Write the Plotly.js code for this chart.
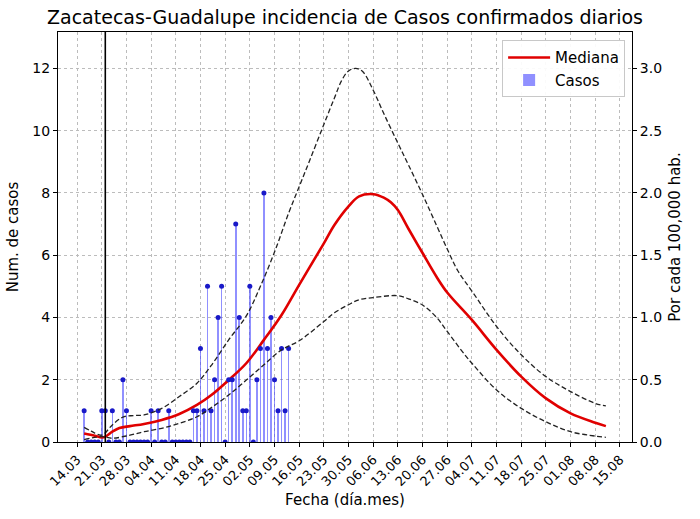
<!DOCTYPE html>
<html>
<head>
<meta charset="utf-8">
<script src="https://cdn.plot.ly/plotly-3.0.1.min.js"></script>
<style>html,body{margin:0;padding:0;background:#fff;}#chart{width:700px;height:519px;}</style>
</head>
<body>
<div id="chart"></div>
<script>
// Daily confirmed cases
const caseDates = [
 '2020-03-16','2020-03-17','2020-03-18','2020-03-19','2020-03-20','2020-03-21','2020-03-22','2020-03-23',
 '2020-03-24','2020-03-25','2020-03-26','2020-03-27','2020-03-28','2020-03-29','2020-03-30','2020-03-31',
 '2020-04-01','2020-04-02','2020-04-03','2020-04-04','2020-04-05','2020-04-06','2020-04-07','2020-04-08',
 '2020-04-09','2020-04-10','2020-04-11','2020-04-12','2020-04-13','2020-04-14','2020-04-15','2020-04-16',
 '2020-04-17','2020-04-18','2020-04-19','2020-04-20','2020-04-21','2020-04-22','2020-04-23','2020-04-24',
 '2020-04-25','2020-04-26','2020-04-27','2020-04-28','2020-04-29','2020-04-30','2020-05-01','2020-05-02',
 '2020-05-03','2020-05-04','2020-05-05','2020-05-06','2020-05-07','2020-05-08','2020-05-09','2020-05-10',
 '2020-05-11','2020-05-12','2020-05-13'];
const caseVals = [
 1,0,0,0,0,1,1,0,
 1,0,0,2,1,0,0,0,
 0,0,0,1,0,1,0,0,
 1,0,0,0,0,0,0,1,
 1,3,1,5,1,2,4,5,
 0,2,2,7,4,1,1,5,
 0,2,3,8,3,4,2,1,
 3,1,3];

// Median curve
const medDates = ['2020-03-16','2020-03-19','2020-03-21','2020-03-22','2020-03-24','2020-03-26','2020-03-29',
 '2020-04-02','2020-04-07','2020-04-12','2020-04-17','2020-04-21','2020-04-26','2020-05-01','2020-05-06',
 '2020-05-11','2020-05-16','2020-05-23','2020-05-26','2020-05-30','2020-06-02','2020-06-06','2020-06-09',
 '2020-06-11','2020-06-13','2020-06-16','2020-06-20','2020-06-24','2020-06-27','2020-07-04','2020-07-11','2020-07-18',
 '2020-07-25','2020-08-01','2020-08-08','2020-08-11'];
const medVals = [0.27,0.20,0.15,0.17,0.33,0.45,0.51,
 0.58,0.71,0.90,1.19,1.50,1.99,2.53,3.28,
 4.08,5.05,6.38,6.97,7.57,7.89,7.96,7.85,
 7.70,7.45,6.85,6.07,5.30,4.80,3.92,2.96,2.10,
 1.40,0.92,0.62,0.51];

// Upper bound curve
const upDates = ['2020-03-16','2020-03-18','2020-03-21','2020-03-24','2020-03-27','2020-03-30','2020-04-02',
 '2020-04-07','2020-04-12','2020-04-17','2020-04-21','2020-04-26','2020-05-01','2020-05-05','2020-05-09',
 '2020-05-13','2020-05-16','2020-05-19','2020-05-23','2020-05-26','2020-05-28','2020-05-30','2020-06-01','2020-06-03',
 '2020-06-06','2020-06-09','2020-06-13','2020-06-16','2020-06-20','2020-06-24','2020-06-27','2020-06-30',
 '2020-07-04','2020-07-11','2020-07-18','2020-07-25','2020-08-01','2020-08-08','2020-08-11'];
const upVals = [0.47,0.35,0.22,0.55,0.80,0.85,0.87,
 1.08,1.46,1.89,2.45,3.28,4.05,5.00,6.10,
 7.35,8.20,9.05,10.20,11.05,11.60,11.92,12.00,11.90,
 11.30,10.55,9.60,8.90,7.95,6.95,6.20,5.50,
 4.85,3.71,2.80,2.10,1.62,1.24,1.16];

// Lower bound curve
const loDates = ['2020-03-16','2020-03-21','2020-03-24','2020-03-29','2020-04-02','2020-04-07','2020-04-12',
 '2020-04-17','2020-04-21','2020-04-26','2020-05-01','2020-05-06','2020-05-11','2020-05-16','2020-05-23',
 '2020-05-26','2020-05-30','2020-06-02','2020-06-06','2020-06-13','2020-06-16','2020-06-20','2020-06-24',
 '2020-06-27','2020-07-02','2020-07-04','2020-07-11','2020-07-18','2020-07-25','2020-08-01','2020-08-08','2020-08-11'];
const loVals = [0.08,0.17,0.12,0.22,0.33,0.44,0.60,
 0.81,1.10,1.51,1.99,2.48,2.96,3.25,3.87,
 4.15,4.41,4.57,4.64,4.70,4.60,4.40,4.00,
 3.55,2.80,2.53,1.67,1.08,0.65,0.33,0.19,0.15];

// Event marker (vertical line)
const eventDate = ['2020-03-22'];

const xRange = ['2020-03-08 14:00','2020-08-18 10:00'];
const yRange = [0, 13.17];
const ratio = 4; // cases per unit of the right axis (per 100,000 hab.)
const weekStart = '2020-03-14';

const F = 'DejaVu Sans, Liberation Sans, sans-serif';
const DAY = 86400000;

const traces = [
  {x: medDates, y: medVals, type: 'scatter', mode: 'lines', name: 'Mediana',
   line: {color: '#e00000', width: 2.6, shape: 'spline', smoothing: 1}},
  {x: caseDates, y: caseVals, type: 'bar', name: 'Casos', width: 0.45*DAY,
   marker: {color: 'rgba(70,70,255,0.6)', line: {width: 0}}},
  {x: caseDates, y: caseVals, type: 'scatter', mode: 'markers', showlegend: false,
   marker: {color: 'rgb(25,25,200)', size: 5}, cliponaxis: true},
  {x: upDates, y: upVals, type: 'scatter', mode: 'lines', showlegend: false,
   line: {color: '#222', width: 1.3, dash: '5px,2.6px', shape: 'spline', smoothing: 1}},
  {x: loDates, y: loVals, type: 'scatter', mode: 'lines', showlegend: false,
   line: {color: '#222', width: 1.3, dash: '5px,2.6px', shape: 'spline', smoothing: 1}},
  {x: [eventDate[0], eventDate[0]], y: yRange, type: 'scatter', mode: 'lines', showlegend: false,
   line: {color: '#000', width: 1.6}},
  {x: [], y: [], type: 'scatter', yaxis: 'y2', showlegend: false}
];

const axisCommon = {
  showline: true, linecolor: '#000', linewidth: 1,
  ticks: 'outside', ticklen: 4, tickcolor: '#000', tickwidth: 1,
  tickfont: {family: F, size: 14, color: '#000'},
  zeroline: false
};

const layout = {
  width: 700, height: 519,
  margin: {l: 58, r: 68, t: 32, b: 77},
  paper_bgcolor: '#fff', plot_bgcolor: '#fff',
  font: {family: F, color: '#000'},
  title: {text: 'Zacatecas-Guadalupe incidencia de Casos confirmados diarios',
          font: {family: F, size: 19, color: '#000'},
          x: 0.5, xref: 'paper', xanchor: 'center', y: 0.967, yanchor: 'middle'},
  showlegend: true,
  bargap: 0,
  xaxis: Object.assign({}, axisCommon, {
    type: 'date', range: xRange, tick0: weekStart, dtick: 7*DAY,
    tickformat: '%d.%m', tickangle: -45, tickfont: {family: F, size: 13, color: '#000'},
    mirror: true, showgrid: true, gridcolor: '#bcbcbc', griddash: 'dot', gridwidth: 1,
    title: {text: 'Fecha (día.mes)', font: {family: F, size: 15, color: '#000'}, standoff: 6}
  }),
  yaxis: Object.assign({}, axisCommon, {
    range: yRange, tick0: 0, dtick: 2,
    showgrid: true, gridcolor: '#bcbcbc', griddash: 'dot', gridwidth: 1,
    title: {text: 'Num. de casos', font: {family: F, size: 15, color: '#000'}, standoff: 10}
  }),
  yaxis2: Object.assign({}, axisCommon, {
    overlaying: 'y', side: 'right', range: [yRange[0]/ratio, yRange[1]/ratio],
    tick0: 0, dtick: 0.5, tickformat: '.1f', showgrid: false,
    title: {text: 'Por cada 100,000 hab.', font: {family: F, size: 15, color: '#000'}, standoff: 8}
  }),
  legend: {x: 0.988, y: 0.98, xanchor: 'right', yanchor: 'top', itemwidth: 42,
           bgcolor: 'rgba(255,255,255,0.92)', bordercolor: '#c8c8c8', borderwidth: 1,
           font: {family: F, size: 15, color: '#000'}, traceorder: 'normal'}
};

Plotly.newPlot('chart', traces, layout, {staticPlot: true, displayModeBar: false});
</script>
</body>
</html>
